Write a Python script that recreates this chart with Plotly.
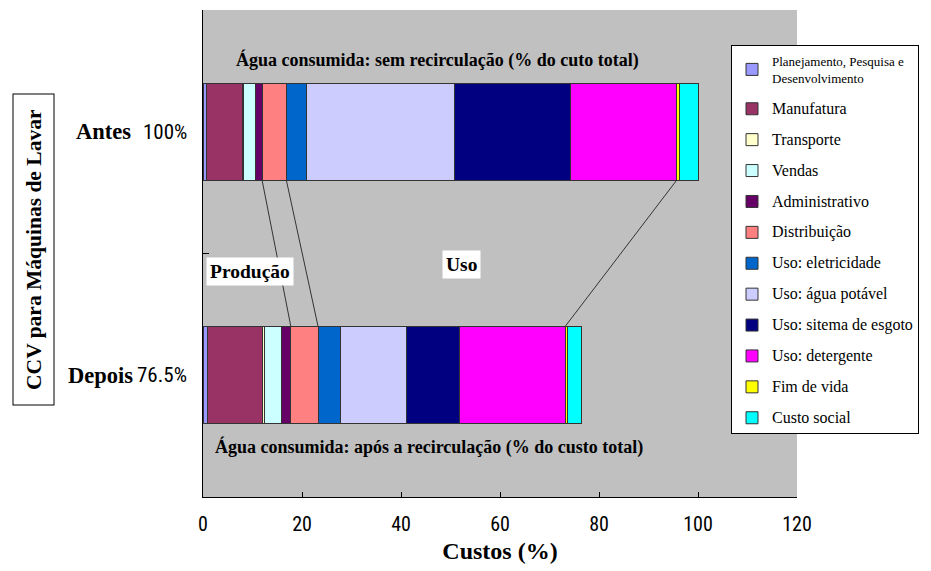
import plotly.graph_objects as go

# ---------------- data ----------------
categories = ["Depois", "Antes"]
category_totals = ["76.5%", "100%"]
series_names = [
    "Planejamento, Pesquisa e Desenvolvimento",
    "Manufatura",
    "Transporte",
    "Vendas",
    "Administrativo",
    "Distribuição",
    "Uso: eletricidade",
    "Uso: água potável",
    "Uso: sitema de esgoto",
    "Uso: detergente",
    "Fim de vida",
    "Custo social",
]
antes = [0.7, 7.2, 0.35, 2.3, 1.4, 4.9, 4.0, 30.0, 23.3, 21.5, 0.55, 3.8]
depois = [1.0, 11.1, 0.35, 3.4, 1.9, 5.5, 4.5, 13.4, 10.7, 21.3, 0.5, 2.85]
colors = ["#9999FF", "#993366", "#FFFFCC", "#CCFFFF", "#660066", "#FF8080",
          "#0066CC", "#CCCCFF", "#000080", "#FF00FF", "#FFFF00", "#00FFFF"]
x_ticks = [0, 20, 40, 60, 80, 100, 120]

SERIF = "Liberation Serif, Times New Roman, serif"
NARROW = "Roboto Condensed, DejaVu Sans Condensed, Liberation Sans Narrow, Arial Narrow, sans-serif"

fig = go.Figure()
for i, name in enumerate(series_names):
    if i == 0:
        label = "Planejamento, Pesquisa e<br>Desenvolvimento"
    else:
        label = f'<span style="font-size:16px">{name}</span>'
    fig.add_trace(go.Bar(
        y=categories,
        x=[depois[i], antes[i]],
        name=label,
        orientation="h",
        legendgroup=f"g{i}",
        marker=dict(color=colors[i], line=dict(color="#333333", width=1)),
        hovertemplate=name + ": %{x}<extra></extra>",
    ))

# connector lines between the bars (derived from cumulative values)
def cum(vals, n):
    return sum(vals[:n])

for n in (5, 6, 10):
    fig.add_shape(type="line", xref="x", yref="y",
                  x0=cum(antes, n), y0=0.8, x1=cum(depois, n), y1=0.2,
                  line=dict(color="#333333", width=1))

def ann(**kw):
    base = dict(showarrow=False, xanchor="center", yanchor="middle")
    base.update(kw)
    return base

PX = 594 / 120.0  # pixels per x unit

annotations = [
    ann(text="<b>Água consumida: sem recirculação (% do cuto total)</b>",
        xref="x", yref="paper", x=(437 - 203) / PX, y=(497 - 60) / 487,
        font=dict(family=SERIF, size=18, color="black")),
    ann(text="<b>Água consumida: após a recirculação (% do custo total)</b>",
        xref="x", yref="paper", x=(429 - 203) / PX, y=(497 - 447) / 487,
        font=dict(family=SERIF, size=18, color="black")),
    ann(text="<b>Produção</b>", xref="x", yref="paper",
        x=(250 - 203) / PX, y=(497 - 271) / 487,
        bgcolor="white", borderpad=3,
        font=dict(family=SERIF, size=19.5, color="black")),
    ann(text="<b>Uso</b>", xref="x", yref="paper",
        x=(461 - 203) / PX, y=(497 - 264) / 487,
        bgcolor="white", borderpad=3,
        font=dict(family=SERIF, size=19.5, color="black")),
    # category labels
    ann(text="<b>Antes</b>", xref="paper", yref="y", x=-(203 - 74) / 594, y=categories[1],
        xanchor="left", font=dict(family=SERIF, size=22.5, color="black")),
    ann(text=category_totals[1], xref="paper", yref="y", x=-(203 - 189) / 594, y=categories[1],
        xanchor="right", font=dict(family=NARROW, size=21, color="black")),
    ann(text="<b>Depois</b>", xref="paper", yref="y", x=-(203 - 66) / 594, y=categories[0],
        xanchor="left", font=dict(family=SERIF, size=22.5, color="black")),
    ann(text=category_totals[0], xref="paper", yref="y", x=-(203 - 189) / 594, y=categories[0],
        xanchor="right", font=dict(family=NARROW, size=21, color="black")),
    # boxed vertical title
    ann(text="<b>CCV para Máquinas de Lavar</b>", xref="paper", yref="paper",
        x=-(203 - 33.5) / 594, y=(497 - 250) / 487, textangle=-90,
        width=298, height=28, borderpad=6, bordercolor="black", borderwidth=1,
        bgcolor="white", font=dict(family=SERIF, size=21.5, color="black")),
]

fig.update_layout(
    width=931, height=571,
    barmode="stack", bargap=0.6,
    paper_bgcolor="white", plot_bgcolor="#C0C0C0",
    margin=dict(l=203, r=134, t=10, b=74),
    font=dict(family=SERIF, color="black"),
    annotations=annotations,
    showlegend=True,
    legend=dict(x=(731 - 203) / 594, y=(497 - 45) / 487, xanchor="left", yanchor="top",
                bgcolor="white", bordercolor="black", borderwidth=1,
                traceorder="grouped", tracegroupgap=11, itemwidth=30,
                font=dict(family=SERIF, size=13, color="black")),
    xaxis=dict(range=[0, 120], tickvals=x_ticks, ticks="inside", ticklen=5,
               tickcolor="black", showline=True, linecolor="black", linewidth=1,
               showgrid=False, zeroline=False, ticklabelstandoff=9,
               tickfont=dict(family=NARROW, size=20, color="black"),
               title=dict(text="<b>Custos (%)</b>", standoff=7,
                          font=dict(family=SERIF, size=24, color="black"))),
    yaxis=dict(type="category", categoryarray=categories, categoryorder="array",
               range=[-0.5, 1.5], showticklabels=False, ticks="inside",
               tickson="boundaries", ticklen=6, tickcolor="black",
               showline=True, linecolor="black", linewidth=1, showgrid=False,
               zeroline=False),
)

fig.write_html("out.html", config={"displayModeBar": False},
               post_script="document.body.style.margin='0';")
